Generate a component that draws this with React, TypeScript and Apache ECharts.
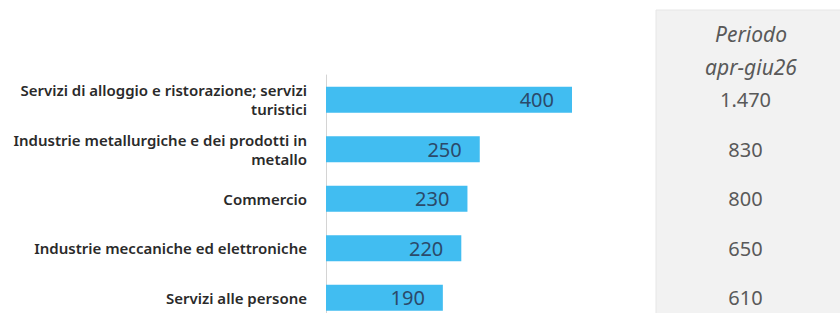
import React, { useEffect, useRef } from "react";
import * as echarts from "echarts";

const categories = [
  "Servizi di alloggio e ristorazione; servizi\nturistici",
  "Industrie metallurgiche e dei prodotti in\nmetallo",
  "Commercio",
  "Industrie meccaniche ed elettroniche",
  "Servizi alle persone",
];
const barValues = [400, 250, 230, 220, 190];
const periodValues = ["1.470", "830", "800", "650", "610"];
const periodTitle = "Periodo\napr-giu26";

export default function App() {
  const ref = useRef<HTMLDivElement>(null);
  useEffect(() => {
    document.body.style.margin = "0";
    document.body.style.overflow = "hidden";
    const chart = echarts.init(ref.current!, null, { renderer: "svg" });
    chart.setOption({
      animation: false,
      backgroundColor: "#ffffff",
      title: {
        text: periodTitle,
        left: 746,
        top: 12,
        textAlign: "center",
        textStyle: {
          fontFamily: "Noto Sans",
          fontStyle: "italic",
          fontWeight: "normal",
          fontSize: 21,
          lineHeight: 33,
          color: "#595959",
        },
        z: 10,
      },
      graphic: [
        {
          type: "rect",
          shape: { x: 656, y: 10, width: 190, height: 330 },
          style: { fill: "#f2f2f2", stroke: "#e6e6e6", lineWidth: 1 },
          z: -10,
          silent: true,
        },
      ],
      grid: { left: 326, top: 75, width: 307.5, height: 247.5 },
      xAxis: {
        type: "value",
        min: 0,
        max: 500,
        show: false,
      },
      yAxis: [
        {
          type: "category",
          data: categories,
          inverse: true,
          axisLine: { show: true, lineStyle: { color: "#d4d4d4", width: 1 } },
          axisTick: { show: false },
          axisLabel: {
            margin: 19,
            fontFamily: "Noto Sans",
            fontSize: 15,
            fontWeight: 600,
            lineHeight: 19,
            color: "#2a2a2a",
            align: "right",
          },
        },
        {
          type: "category",
          data: periodValues,
          inverse: true,
          position: "right",
          offset: 112,
          axisLine: { show: false },
          axisTick: { show: false },
          axisLabel: {
            margin: 0,
            align: "center",
            fontFamily: "Noto Sans",
            fontSize: 20,
            color: "#595959",
          },
        },
      ],
      series: [
        {
          type: "bar",
          data: barValues,
          yAxisIndex: 0,
          barWidth: 26,
          itemStyle: { color: "#41bdf1" },
          label: {
            show: true,
            position: "insideRight",
            distance: 18,
            fontFamily: "Noto Sans",
            fontSize: 20,
            color: "#2b4a6a",
          },
        },
      ],
    });
    return () => chart.dispose();
  }, []);
  return <div ref={ref} style={{ width: 840, height: 330 }} />;
}
